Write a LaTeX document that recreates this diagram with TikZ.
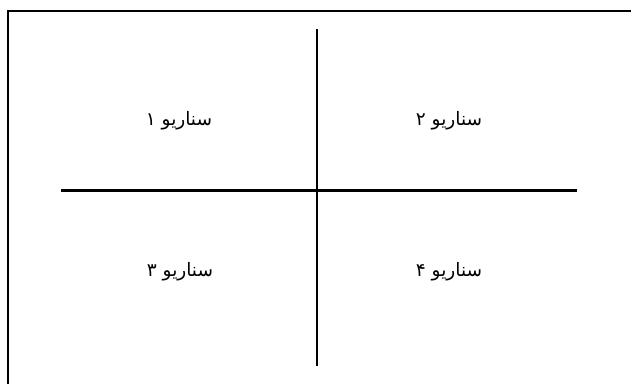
\documentclass[tikz,border=0pt]{standalone}
\usepackage{fontspec}
\newfontfamily\arabicfont[Script=Arabic]{DejaVu Sans}
\TeXXeTstate=1
\begin{document}
\begin{tikzpicture}[x={(1pt,0pt)},y={(0pt,-1pt)},
    scen/.style={font=\arabicfont\fontsize{18.5}{20}\selectfont,inner sep=0pt},
    axisline/.style={line width=2.2pt}]
        \useasboundingbox (0,0) rectangle (631,383);
        \clip (0,0) rectangle (631,383);
        \draw[line width=2pt] (8,390)--(8,10.5)--(640,10.5);
        \coordinate (top) at (317,29);
        \coordinate (bottom) at (317,366);
        \coordinate (left) at (61,190.5);
        \coordinate (right) at (577,190.5);
        \draw[axisline] (top)--(bottom);
        \draw[axisline] (left)--(right);
        \node[scen] (s1) at (179,121) {\beginR سناریو ۱\endR};
        \node[scen] (s2) at (449,121) {\beginR سناریو ۲\endR};
        \node[scen] (s3) at (180,272) {\beginR سناریو ۳\endR};
        \node[scen] (s4) at (449,272) {\beginR سناریو ۴\endR};
        \end{tikzpicture}
\end{document}
